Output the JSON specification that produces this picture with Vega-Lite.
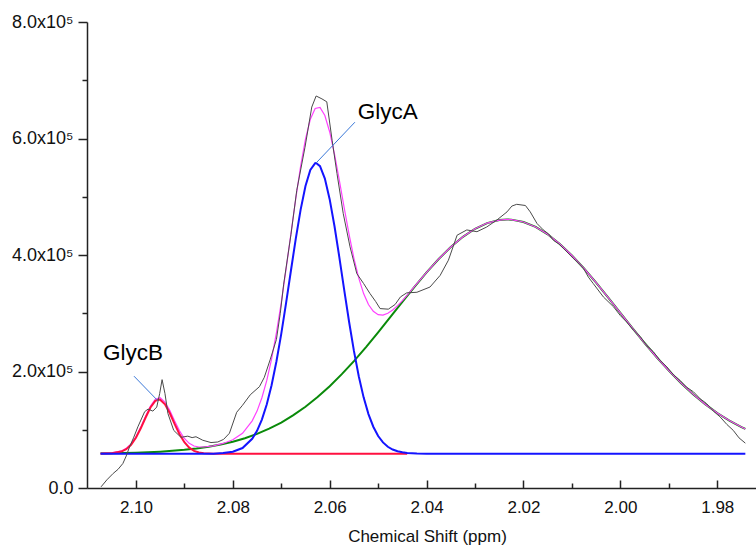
{
  "$schema": "https://vega.github.io/schema/vega-lite/v6.json",
  "width": 669,
  "height": 466,
  "autosize": {"type": "none"},
  "padding": {"left": 87, "top": 22, "right": 0, "bottom": 59},
  "background": "white",
  "config": {"view": {"stroke": null}, "font": "Liberation Sans", "axis": {"grid": false}},
  "datasets": {
    "gray": [
      {"ppm": 2.1072, "val": 2000}, {"ppm": 2.106, "val": 14000}, {"ppm": 2.1047, "val": 25000}, {"ppm": 2.1037, "val": 32000},
      {"ppm": 2.1027, "val": 42000}, {"ppm": 2.102, "val": 55000}, {"ppm": 2.1013, "val": 71000}, {"ppm": 2.1005, "val": 86000}, {"ppm": 2.0996, "val": 105000}, {"ppm": 2.0982, "val": 131000},
      {"ppm": 2.0975, "val": 135500}, {"ppm": 2.0965, "val": 132000}, {"ppm": 2.0957, "val": 139000}, {"ppm": 2.0951, "val": 162000},
      {"ppm": 2.0946, "val": 186000}, {"ppm": 2.094, "val": 162000}, {"ppm": 2.0934, "val": 128000}, {"ppm": 2.0922, "val": 99000},
      {"ppm": 2.0907, "val": 87000}, {"ppm": 2.0893, "val": 89000}, {"ppm": 2.0884, "val": 86500}, {"ppm": 2.0876, "val": 88000}, {"ppm": 2.0862, "val": 82000},
      {"ppm": 2.0845, "val": 78000}, {"ppm": 2.0831, "val": 79000}, {"ppm": 2.0819, "val": 83500}, {"ppm": 2.0807, "val": 94000},
      {"ppm": 2.0792, "val": 130000}, {"ppm": 2.078, "val": 142000}, {"ppm": 2.0764, "val": 160000}, {"ppm": 2.0745, "val": 174000},
      {"ppm": 2.0735, "val": 190000}, {"ppm": 2.0723, "val": 220000}, {"ppm": 2.071, "val": 255000}, {"ppm": 2.0702, "val": 300000},
      {"ppm": 2.0695, "val": 350000}, {"ppm": 2.068, "val": 435000}, {"ppm": 2.0668, "val": 511000}, {"ppm": 2.0651, "val": 585000},
      {"ppm": 2.0637, "val": 654000}, {"ppm": 2.0628, "val": 673000}, {"ppm": 2.0616, "val": 668000}, {"ppm": 2.0606, "val": 663000},
      {"ppm": 2.0595, "val": 597000}, {"ppm": 2.0585, "val": 540000}, {"ppm": 2.0572, "val": 471000}, {"ppm": 2.0558, "val": 414000},
      {"ppm": 2.0544, "val": 368000}, {"ppm": 2.053, "val": 351000}, {"ppm": 2.0517, "val": 334000}, {"ppm": 2.0505, "val": 320000},
      {"ppm": 2.0496, "val": 308000}, {"ppm": 2.0479, "val": 307000}, {"ppm": 2.0465, "val": 315000}, {"ppm": 2.0454, "val": 328000},
      {"ppm": 2.0441, "val": 335000}, {"ppm": 2.042, "val": 336000}, {"ppm": 2.0393, "val": 345000}, {"ppm": 2.0372, "val": 365000},
      {"ppm": 2.0355, "val": 391000}, {"ppm": 2.0337, "val": 434000}, {"ppm": 2.0317, "val": 443000}, {"ppm": 2.0296, "val": 440000},
      {"ppm": 2.0276, "val": 448000}, {"ppm": 2.0255, "val": 460000}, {"ppm": 2.0234, "val": 474000}, {"ppm": 2.0224, "val": 484000},
      {"ppm": 2.0214, "val": 487000}, {"ppm": 2.0196, "val": 485000}, {"ppm": 2.0186, "val": 474000}, {"ppm": 2.0172, "val": 454000},
      {"ppm": 2.0159, "val": 443000}, {"ppm": 2.0148, "val": 436000}, {"ppm": 2.0138, "val": 425000}, {"ppm": 2.0127, "val": 419000}, {"ppm": 2.0117, "val": 411000}, {"ppm": 2.0097, "val": 394000},
      {"ppm": 2.0086, "val": 386000}, {"ppm": 2.0076, "val": 377000}, {"ppm": 2.0066, "val": 362000}, {"ppm": 2.0056, "val": 351000}, {"ppm": 2.0035, "val": 328000}, {"ppm": 2.0014, "val": 311000},
      {"ppm": 2.0, "val": 296000}, {"ppm": 1.9987, "val": 285000}, {"ppm": 1.9973, "val": 271000}, {"ppm": 1.9959, "val": 260000}, {"ppm": 1.9945, "val": 244000}, {"ppm": 1.9932, "val": 234000}, {"ppm": 1.9918, "val": 219000}, {"ppm": 1.9904, "val": 208000},
      {"ppm": 1.989, "val": 194000}, {"ppm": 1.9877, "val": 185000}, {"ppm": 1.9863, "val": 173000}, {"ppm": 1.9849, "val": 165000}, {"ppm": 1.9835, "val": 153000}, {"ppm": 1.9822, "val": 145000}, {"ppm": 1.9808, "val": 132000}, {"ppm": 1.9794, "val": 122000},
      {"ppm": 1.978, "val": 109000}, {"ppm": 1.9767, "val": 99000}, {"ppm": 1.9755, "val": 86000}, {"ppm": 1.9742, "val": 77000}
    ],
    "red": [
      {"ppm": 2.1073, "val": 59000}, {"ppm": 2.105, "val": 59500}, {"ppm": 2.103, "val": 62500}, {"ppm": 2.102, "val": 66700},
      {"ppm": 2.101, "val": 74300}, {"ppm": 2.1, "val": 86300}, {"ppm": 2.099, "val": 102500}, {"ppm": 2.098, "val": 121000},
      {"ppm": 2.097, "val": 138200}, {"ppm": 2.096, "val": 149500}, {"ppm": 2.0953, "val": 152000}, {"ppm": 2.095, "val": 151500},
      {"ppm": 2.094, "val": 143700}, {"ppm": 2.093, "val": 128300}, {"ppm": 2.092, "val": 109800}, {"ppm": 2.091, "val": 92300},
      {"ppm": 2.09, "val": 78500}, {"ppm": 2.089, "val": 69250}, {"ppm": 2.088, "val": 63800}, {"ppm": 2.087, "val": 61000},
      {"ppm": 2.086, "val": 59760}, {"ppm": 2.084, "val": 59000}, {"ppm": 2.044, "val": 59000}
    ],
    "blue": [
      {"ppm": 2.1073, "val": 59000}, {"ppm": 2.084, "val": 59000}, {"ppm": 2.082, "val": 59900}, {"ppm": 2.08, "val": 62200},
      {"ppm": 2.078, "val": 68600}, {"ppm": 2.076, "val": 84400}, {"ppm": 2.075, "val": 98200}, {"ppm": 2.074, "val": 117500},
      {"ppm": 2.073, "val": 143300}, {"ppm": 2.072, "val": 176400}, {"ppm": 2.071, "val": 217200}, {"ppm": 2.07, "val": 264700},
      {"ppm": 2.069, "val": 317700}, {"ppm": 2.068, "val": 373400}, {"ppm": 2.067, "val": 428100}, {"ppm": 2.066, "val": 477900},
      {"ppm": 2.065, "val": 518400}, {"ppm": 2.064, "val": 545900}, {"ppm": 2.063, "val": 557700}, {"ppm": 2.0628, "val": 558000},
      {"ppm": 2.062, "val": 552600}, {"ppm": 2.061, "val": 531100}, {"ppm": 2.06, "val": 495400}, {"ppm": 2.059, "val": 448900},
      {"ppm": 2.058, "val": 395600}, {"ppm": 2.057, "val": 339800}, {"ppm": 2.056, "val": 285400}, {"ppm": 2.055, "val": 235400},
      {"ppm": 2.054, "val": 191800}, {"ppm": 2.053, "val": 155600}, {"ppm": 2.052, "val": 126900}, {"ppm": 2.051, "val": 105200},
      {"ppm": 2.05, "val": 89300}, {"ppm": 2.049, "val": 78250}, {"ppm": 2.048, "val": 70800}, {"ppm": 2.047, "val": 66000},
      {"ppm": 2.046, "val": 63000}, {"ppm": 2.045, "val": 61200}, {"ppm": 2.044, "val": 60200}, {"ppm": 2.042, "val": 59300},
      {"ppm": 2.04, "val": 59000}, {"ppm": 1.9742, "val": 59000}
    ],
    "green": [
      {"ppm": 2.1073, "val": 59600}, {"ppm": 2.105, "val": 59800}, {"ppm": 2.1025, "val": 60200}, {"ppm": 2.1, "val": 60700},
      {"ppm": 2.0975, "val": 61400}, {"ppm": 2.095, "val": 62400}, {"ppm": 2.0925, "val": 63750}, {"ppm": 2.09, "val": 65500},
      {"ppm": 2.0875, "val": 67800}, {"ppm": 2.085, "val": 70800}, {"ppm": 2.0825, "val": 74600}, {"ppm": 2.08, "val": 79500},
      {"ppm": 2.0775, "val": 85500}, {"ppm": 2.075, "val": 92850}, {"ppm": 2.0725, "val": 101800}, {"ppm": 2.07, "val": 112400},
      {"ppm": 2.0675, "val": 125000}, {"ppm": 2.065, "val": 139500}, {"ppm": 2.0625, "val": 156100}, {"ppm": 2.06, "val": 174800},
      {"ppm": 2.0575, "val": 195400}, {"ppm": 2.055, "val": 217900}, {"ppm": 2.0525, "val": 242000}, {"ppm": 2.05, "val": 267300},
      {"ppm": 2.0475, "val": 293300}, {"ppm": 2.045, "val": 319600}, {"ppm": 2.0425, "val": 345400}, {"ppm": 2.04, "val": 370200},
      {"ppm": 2.0375, "val": 393200}, {"ppm": 2.035, "val": 413700}, {"ppm": 2.0325, "val": 431200}, {"ppm": 2.03, "val": 445000},
      {"ppm": 2.0275, "val": 454800}, {"ppm": 2.025, "val": 460000}, {"ppm": 2.0234, "val": 461000}, {"ppm": 2.0225, "val": 460700},
      {"ppm": 2.02, "val": 456700}, {"ppm": 2.0175, "val": 448200}, {"ppm": 2.015, "val": 435500}, {"ppm": 2.0125, "val": 419000},
      {"ppm": 2.01, "val": 399200}, {"ppm": 2.0075, "val": 376800}, {"ppm": 2.005, "val": 352500}, {"ppm": 2.0025, "val": 326900},
      {"ppm": 2.0, "val": 300600}, {"ppm": 1.9975, "val": 274500}, {"ppm": 1.995, "val": 248900}, {"ppm": 1.9925, "val": 224500},
      {"ppm": 1.99, "val": 201550}, {"ppm": 1.9875, "val": 180400}, {"ppm": 1.985, "val": 161100}, {"ppm": 1.9825, "val": 143900},
      {"ppm": 1.98, "val": 128800}, {"ppm": 1.9775, "val": 115700}, {"ppm": 1.975, "val": 104600}, {"ppm": 1.9742, "val": 101400}
    ],
    "magenta": [
      {"ppm": 2.1073, "val": 59600}, {"ppm": 2.105, "val": 60300}, {"ppm": 2.103, "val": 63600}, {"ppm": 2.102, "val": 68000},
      {"ppm": 2.101, "val": 75800}, {"ppm": 2.1, "val": 88000}, {"ppm": 2.099, "val": 104500}, {"ppm": 2.098, "val": 123250},
      {"ppm": 2.097, "val": 140800}, {"ppm": 2.096, "val": 152500}, {"ppm": 2.095, "val": 154900}, {"ppm": 2.094, "val": 147600},
      {"ppm": 2.093, "val": 132800}, {"ppm": 2.092, "val": 114900}, {"ppm": 2.091, "val": 98100}, {"ppm": 2.09, "val": 85000},
      {"ppm": 2.089, "val": 76650}, {"ppm": 2.088, "val": 72100}, {"ppm": 2.087, "val": 70400}, {"ppm": 2.086, "val": 70400},
      {"ppm": 2.084, "val": 72300}, {"ppm": 2.082, "val": 76500}, {"ppm": 2.08, "val": 82700}, {"ppm": 2.078, "val": 93900},
      {"ppm": 2.076, "val": 115300}, {"ppm": 2.075, "val": 132050}, {"ppm": 2.074, "val": 155000}, {"ppm": 2.073, "val": 184300},
      {"ppm": 2.072, "val": 221300}, {"ppm": 2.071, "val": 266300}, {"ppm": 2.07, "val": 318100}, {"ppm": 2.069, "val": 376100},
      {"ppm": 2.068, "val": 436900}, {"ppm": 2.067, "val": 497000}, {"ppm": 2.066, "val": 552600}, {"ppm": 2.065, "val": 598900},
      {"ppm": 2.064, "val": 633000}, {"ppm": 2.063, "val": 651500}, {"ppm": 2.062, "val": 653400}, {"ppm": 2.061, "val": 639400},
      {"ppm": 2.06, "val": 611200}, {"ppm": 2.059, "val": 572900}, {"ppm": 2.058, "val": 527900}, {"ppm": 2.057, "val": 480700},
      {"ppm": 2.056, "val": 435300}, {"ppm": 2.055, "val": 394300}, {"ppm": 2.054, "val": 360300}, {"ppm": 2.053, "val": 333800},
      {"ppm": 2.052, "val": 315000}, {"ppm": 2.051, "val": 303400}, {"ppm": 2.05, "val": 297600}, {"ppm": 2.049, "val": 296950},
      {"ppm": 2.048, "val": 299900}, {"ppm": 2.047, "val": 305600}, {"ppm": 2.046, "val": 313100}, {"ppm": 2.045, "val": 321800},
      {"ppm": 2.044, "val": 331100}, {"ppm": 2.042, "val": 350700}, {"ppm": 2.04, "val": 370200}, {"ppm": 2.0375, "val": 393200},
      {"ppm": 2.035, "val": 413700}, {"ppm": 2.0325, "val": 431200}, {"ppm": 2.03, "val": 445000}, {"ppm": 2.0275, "val": 454800},
      {"ppm": 2.025, "val": 460000}, {"ppm": 2.0234, "val": 461000}, {"ppm": 2.0225, "val": 460700}, {"ppm": 2.02, "val": 456700},
      {"ppm": 2.0175, "val": 448200}, {"ppm": 2.015, "val": 435500}, {"ppm": 2.0125, "val": 419000}, {"ppm": 2.01, "val": 399200},
      {"ppm": 2.0075, "val": 376800}, {"ppm": 2.005, "val": 352500}, {"ppm": 2.0025, "val": 326900}, {"ppm": 2.0, "val": 300600},
      {"ppm": 1.9975, "val": 274500}, {"ppm": 1.995, "val": 248900}, {"ppm": 1.9925, "val": 224500}, {"ppm": 1.99, "val": 201550},
      {"ppm": 1.9875, "val": 180400}, {"ppm": 1.985, "val": 161100}, {"ppm": 1.9825, "val": 143900}, {"ppm": 1.98, "val": 128800},
      {"ppm": 1.9775, "val": 115700}, {"ppm": 1.975, "val": 104600}, {"ppm": 1.9742, "val": 101400}
    ],
    "leaders": [
      {"ppm": 2.0548, "val": 628000, "id": "GlycA"}, {"ppm": 2.0628, "val": 558000, "id": "GlycA"},
      {"ppm": 2.1004, "val": 192000, "id": "GlycB"}, {"ppm": 2.0955, "val": 150000, "id": "GlycB"}
    ],
    "labels": [
      {"ppm": 2.048, "val": 645000, "label": "GlycA"},
      {"ppm": 2.1006, "val": 232000, "label": "GlycB"}
    ]
  },
  "encoding": {
    "x": {
      "field": "ppm", "type": "quantitative",
      "scale": {"domain": [1.972, 2.1101], "reverse": true, "nice": false, "zero": false},
      "axis": {
        "values": [2.10, 2.09, 2.08, 2.07, 2.06, 2.05, 2.04, 2.03, 2.02, 2.01, 2.00, 1.99, 1.98],
        "labelExpr": "round(datum.value*100)%2==0 ? format(datum.value,'.2f') : ''",
        "tickSize": {"condition": {"test": "round(datum.value*100)%2==0", "value": -8}, "value": -5},
        "labelPadding": 19,
        "labelBaseline": "top",
        "labelFlush": false,
        "labelOverlap": false,
        "domainColor": "#222222", "domainWidth": 1.5,
        "tickColor": "#222222", "tickWidth": 1.5,
        "labelFontSize": 17, "labelColor": "#111111",
        "title": "Chemical Shift (ppm)", "titleFontSize": 17, "titleFontWeight": "normal", "titleColor": "#111111",
        "titlePadding": 10,
        "titleX": 340
      }
    },
    "y": {
      "field": "val", "type": "quantitative",
      "scale": {"domain": [0, 800000], "nice": false, "zero": true},
      "axis": {
        "values": [0, 100000, 200000, 300000, 400000, 500000, 600000, 700000, 800000],
        "labelExpr": "datum.value==0 ? '0.0' : (round(datum.value/100000)%2==0 ? format(datum.value/100000,'.1f')+'x10⁵' : '')",
        "tickSize": {"condition": {"test": "round(datum.value/100000)%2==0", "value": 9}, "value": 5},
        "labelPadding": 5,
        "labelFlush": false,
        "labelOverlap": false,
        "domainColor": "#222222", "domainWidth": 1.5,
        "tickColor": "#222222", "tickWidth": 1.5,
        "labelFontSize": 18, "labelColor": "#111111",
        "title": null
      }
    }
  },
  "layer": [
    {"data": {"name": "green"}, "mark": {"type": "line", "color": "#0a8a0a", "strokeWidth": 2}},
    {"data": {"name": "magenta"}, "mark": {"type": "line", "color": "#ff40ff", "strokeWidth": 1.2}},
    {"data": {"name": "red"}, "mark": {"type": "line", "color": "#ff1040", "strokeWidth": 2}},
    {"data": {"name": "blue"}, "mark": {"type": "line", "color": "#1414ff", "strokeWidth": 2}},
    {"data": {"name": "gray"}, "mark": {"type": "line", "color": "#4a4a4a", "strokeWidth": 1}},
    {"data": {"name": "leaders"}, "mark": {"type": "line", "color": "#3a78d8", "strokeWidth": 1}, "encoding": {"detail": {"field": "id"}}},
    {"data": {"name": "labels"}, "mark": {"type": "text", "fontSize": 22.5, "color": "#000000", "align": "center", "baseline": "middle"}, "encoding": {"text": {"field": "label"}}},
    {"data": {"values": [{}]}, "mark": {"type": "rule", "color": "#222222", "strokeWidth": 1.5}, "encoding": {"x": {"datum": 2.1101}, "x2": {"datum": 1.972}, "y": {"datum": 800000}}}
  ]
}
